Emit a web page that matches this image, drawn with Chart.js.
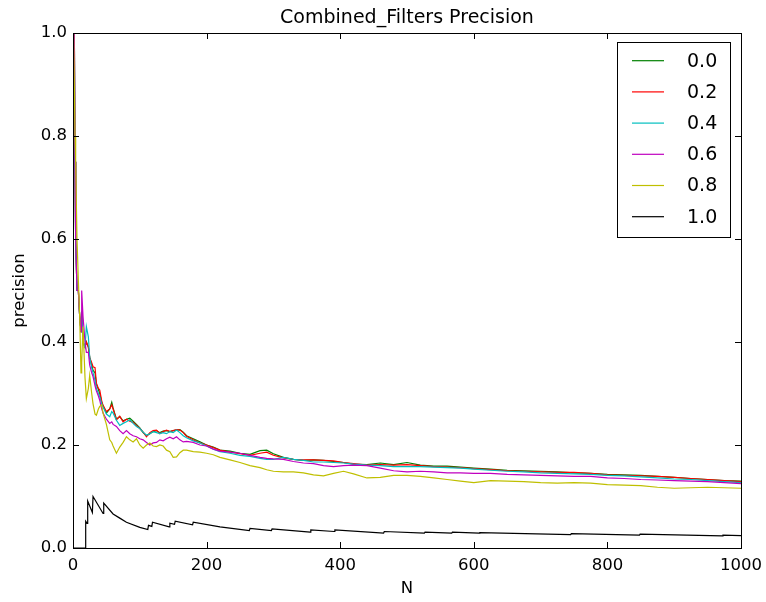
<!DOCTYPE html>
<html>
<head>
<meta charset="utf-8">
<script src="https://cdn.jsdelivr.net/npm/chart.js@4/dist/chart.umd.min.js"></script>
<style>
html,body{margin:0;padding:0;background:#fff;}
#wrap{width:766px;height:602px;position:relative;}
</style>
</head>
<body>
<div id="wrap"><canvas id="c" width="766" height="602"></canvas></div>
<script>
// ---- data ----
const titleText = "Combined_Filters Precision";
const xLabel = "N";
const yLabel = "precision";
const seriesLabels = ["0.0", "0.2", "0.4", "0.6", "0.8", "1.0"];
const xTicks = [0, 200, 400, 600, 800, 1000];
const yTicks = [0.0, 0.2, 0.4, 0.6, 0.8, 1.0];

const N = [1,2,3,4,5,6,8,10,12,13,
  15,18,20,23,25,28,30,33,35,38,
  40,43,45,50,55,58,60,65,70,75,
  80,85,90,95,100,105,110,115,120,125,
  130,135,140,145,150,155,160,165,170,180,
  190,200,210,220,235,250,265,280,290,300,
  315,330,345,360,375,390,405,420,440,460,
  480,500,520,540,560,580,600,625,650,675,
  700,725,750,775,800,825,850,875,900,925,
  950,975,1000];

const p00 = [1.0,1.0,0.75,0.6,0.55,0.5,0.5,0.45,0.42,0.46,
  0.40,0.39,0.40,0.39,0.37,0.355,0.345,0.34,0.318,0.308,
  0.30,0.283,0.276,0.262,0.27,0.283,0.272,0.25,0.255,0.247,
  0.25,0.252,0.246,0.24,0.233,0.224,0.218,0.222,0.226,0.228,
  0.224,0.227,0.228,0.226,0.228,0.229,0.23,0.225,0.218,0.212,
  0.206,0.20,0.196,0.19,0.188,0.184,0.182,0.189,0.19,0.183,
  0.176,0.172,0.17,0.171,0.17,0.168,0.166,0.163,0.162,0.165,
  0.162,0.166,0.161,0.159,0.159,0.157,0.155,0.153,0.151,0.15,
  0.149,0.148,0.146,0.145,0.143,0.142,0.141,0.139,0.137,0.135,
  0.133,0.131,0.13];

const p02 = [1.0,1.0,0.75,0.6,0.55,0.5,0.5,0.45,0.42,0.46,
  0.40,0.39,0.40,0.39,0.37,0.36,0.352,0.35,0.32,0.31,
  0.307,0.285,0.277,0.265,0.27,0.278,0.27,0.249,0.256,0.245,
  0.25,0.246,0.244,0.238,0.232,0.225,0.216,0.224,0.228,0.229,
  0.222,0.226,0.229,0.226,0.228,0.23,0.229,0.224,0.217,0.21,
  0.204,0.20,0.195,0.19,0.186,0.183,0.18,0.184,0.186,0.18,
  0.175,0.172,0.171,0.171,0.17,0.169,0.166,0.164,0.161,0.162,
  0.161,0.162,0.16,0.158,0.157,0.156,0.154,0.152,0.15,0.149,
  0.148,0.147,0.147,0.145,0.142,0.141,0.14,0.139,0.137,0.135,
  0.133,0.131,0.129];

const p04 = [1.0,1.0,0.75,0.6,0.55,0.5,0.5,0.45,0.42,0.46,
  0.40,0.39,0.43,0.41,0.37,0.35,0.34,0.325,0.31,0.30,
  0.294,0.28,0.274,0.26,0.255,0.265,0.262,0.248,0.238,0.242,
  0.245,0.249,0.242,0.236,0.232,0.225,0.219,0.222,0.226,0.224,
  0.222,0.224,0.222,0.226,0.224,0.229,0.224,0.218,0.214,0.208,
  0.204,0.198,0.192,0.187,0.184,0.18,0.178,0.174,0.172,0.172,
  0.176,0.172,0.17,0.167,0.167,0.166,0.165,0.163,0.161,0.16,
  0.158,0.158,0.158,0.157,0.156,0.155,0.153,0.151,0.149,0.148,
  0.146,0.145,0.144,0.143,0.141,0.14,0.138,0.136,0.134,0.133,
  0.131,0.129,0.127];

const p06 = [1.0,1.0,0.75,0.6,0.55,0.5,0.5,0.45,0.42,0.5,
  0.45,0.40,0.38,0.38,0.355,0.34,0.333,0.315,0.305,0.295,
  0.287,0.27,0.262,0.25,0.242,0.245,0.24,0.236,0.228,0.222,
  0.228,0.222,0.218,0.216,0.212,0.21,0.205,0.20,0.204,0.205,
  0.21,0.208,0.212,0.215,0.212,0.216,0.21,0.206,0.207,0.205,
  0.20,0.198,0.192,0.188,0.186,0.184,0.18,0.176,0.174,0.173,
  0.172,0.168,0.165,0.164,0.16,0.158,0.16,0.161,0.16,0.155,
  0.15,0.148,0.149,0.148,0.146,0.146,0.145,0.145,0.143,0.142,
  0.141,0.14,0.139,0.139,0.136,0.135,0.133,0.132,0.131,0.13,
  0.129,0.127,0.125];

const p08 = [1.0,0.9,0.8,0.75,0.67,0.6,0.52,0.45,0.34,0.36,
  0.43,0.33,0.29,0.31,0.335,0.30,0.28,0.26,0.258,0.27,
  0.275,0.278,0.262,0.24,0.21,0.205,0.198,0.184,0.196,0.205,
  0.216,0.21,0.206,0.212,0.20,0.194,0.20,0.204,0.198,0.197,
  0.20,0.198,0.19,0.187,0.176,0.177,0.185,0.19,0.19,0.187,
  0.186,0.184,0.181,0.176,0.171,0.166,0.16,0.156,0.152,0.149,
  0.148,0.148,0.146,0.142,0.14,0.145,0.149,0.144,0.136,0.137,
  0.141,0.141,0.139,0.136,0.133,0.13,0.127,0.131,0.13,0.129,
  0.127,0.126,0.127,0.126,0.123,0.122,0.121,0.118,0.116,0.117,
  0.118,0.117,0.116];

const N10 = [1,18,19,21,22,29,30,45,46,60,70,80,100,112,113,118,119,144,145,152,153,179,180,220,264,265,297,298,355,356,391,392,465,466,526,527,567,568,608,609,745,746,848,849,972,973,1000];
const p10 = [0,0,0.052,0.048,0.091,0.069,0.1,0.067,0.087,0.066,0.058,0.05,0.04,0.036,0.044,0.042,0.05,0.041,0.048,0.046,0.052,0.045,0.05,0.041,0.034,0.038,0.034,0.037,0.031,0.035,0.032,0.035,0.029,0.032,0.029,0.031,0.029,0.031,0.029,0.03,0.026,0.028,0.025,0.027,0.0235,0.025,0.024];

const colors = ["#008000", "#ff0000", "#00bfbf", "#bf00bf", "#bfbf00", "#000000"];
// ---- build ----
function pts(xs, ys){ return xs.map((x,i)=>({x:x, y:ys[i]})); }
const seriesX = [N, N, N, N, N, N10];
const seriesY = [p00, p02, p04, p06, p08, p10];

const datasets = seriesY.map((ys, i) => ({
  label: seriesLabels[i],
  data: pts(seriesX[i], ys),
  borderColor: colors[i],
  backgroundColor: colors[i],
  borderWidth: 1.2,
  pointRadius: 0,
  tension: 0,
  fill: false,
  order: seriesY.length - i
}));

const FONT = "'DejaVu Sans', sans-serif";

const framePlugin = {
  id: 'frame',
  afterDraw(chart){
    const ctx = chart.ctx, a = chart.chartArea;
    const xs = chart.scales.x, ys = chart.scales.y;
    ctx.save();
    ctx.strokeStyle = '#000';
    ctx.lineWidth = 1;
    ctx.strokeRect(Math.round(a.left)+0.5, Math.round(a.top)+0.5, Math.round(a.right-a.left), Math.round(a.bottom-a.top));
    const tl = 6;
    ctx.beginPath();
    xTicks.forEach(v => {
      const px = Math.round(xs.getPixelForValue(v)) + 0.5;
      ctx.moveTo(px, a.bottom); ctx.lineTo(px, a.bottom - tl);
      ctx.moveTo(px, a.top); ctx.lineTo(px, a.top + tl);
    });
    yTicks.forEach(v => {
      const py = Math.round(ys.getPixelForValue(v)) + 0.5;
      ctx.moveTo(a.left, py); ctx.lineTo(a.left + tl, py);
      ctx.moveTo(a.right, py); ctx.lineTo(a.right - tl, py);
    });
    ctx.stroke();

    // title
    ctx.fillStyle = '#000';
    ctx.textAlign = 'center';
    ctx.textBaseline = 'middle';
    ctx.font = "19px " + FONT;
    ctx.fillText(titleText, (a.left + a.right)/2, 18);
    // axis labels
    ctx.font = "16.5px " + FONT;
    ctx.fillText(xLabel, (a.left + a.right)/2, 589);
    ctx.save();
    ctx.translate(20, (a.top + a.bottom)/2);
    ctx.rotate(-Math.PI/2);
    ctx.fillText(yLabel, 0, 0);
    ctx.restore();

    // legend
    const bx = 617.5, by = 42.5, bw = 113, bh = 195;
    ctx.fillStyle = '#fff';
    ctx.fillRect(bx, by, bw, bh);
    ctx.strokeStyle = '#000';
    ctx.lineWidth = 1;
    ctx.strokeRect(bx, by, bw, bh);
    ctx.font = "19px " + FONT;
    ctx.textAlign = 'left';
    chart.data.datasets.forEach((ds, i) => {
      const yy = 60.7 + i * 31.2;
      ctx.strokeStyle = ds.borderColor;
      ctx.lineWidth = 1.2;
      ctx.beginPath();
      ctx.moveTo(632, yy); ctx.lineTo(664, yy);
      ctx.stroke();
      ctx.fillStyle = '#000';
      ctx.fillText(ds.label, 687, yy + 1);
    });
    ctx.restore();
  }
};

new Chart(document.getElementById('c'), {
  type: 'line',
  data: { datasets },
  options: {
    responsive: false,
    animation: false,
    devicePixelRatio: 1,
    layout: { padding: { left: 0, right: 25, top: 33, bottom: 0 } },
    plugins: { legend: { display: false }, title: { display: false }, tooltip: { enabled: false } },
    scales: {
      x: {
        type: 'linear', min: 0, max: 1000,
        afterBuildTicks(s){ s.ticks = xTicks.map(v => ({value: v})); },
        afterFit(s){ s.height = 54; s.paddingLeft = 0; s.paddingRight = 0; },
        grid: { display: false, drawTicks: false },
        border: { display: false },
        ticks: { color: '#000', font: { family: FONT, size: 16.5 }, padding: 8, maxRotation: 0, autoSkip: false,
          callback: v => String(v) }
      },
      y: {
        type: 'linear', min: 0, max: 1,
        afterBuildTicks(s){ s.ticks = yTicks.map(v => ({value: v})); },
        afterFit(s){ s.width = 73; s.paddingTop = 0; s.paddingBottom = 0; },
        grid: { display: false, drawTicks: false },
        border: { display: false },
        ticks: { color: '#000', font: { family: FONT, size: 16.5 }, padding: 6, autoSkip: false,
          callback: v => Number(v).toFixed(1) }
      }
    }
  },
  plugins: [framePlugin]
});
</script>
</body>
</html>
